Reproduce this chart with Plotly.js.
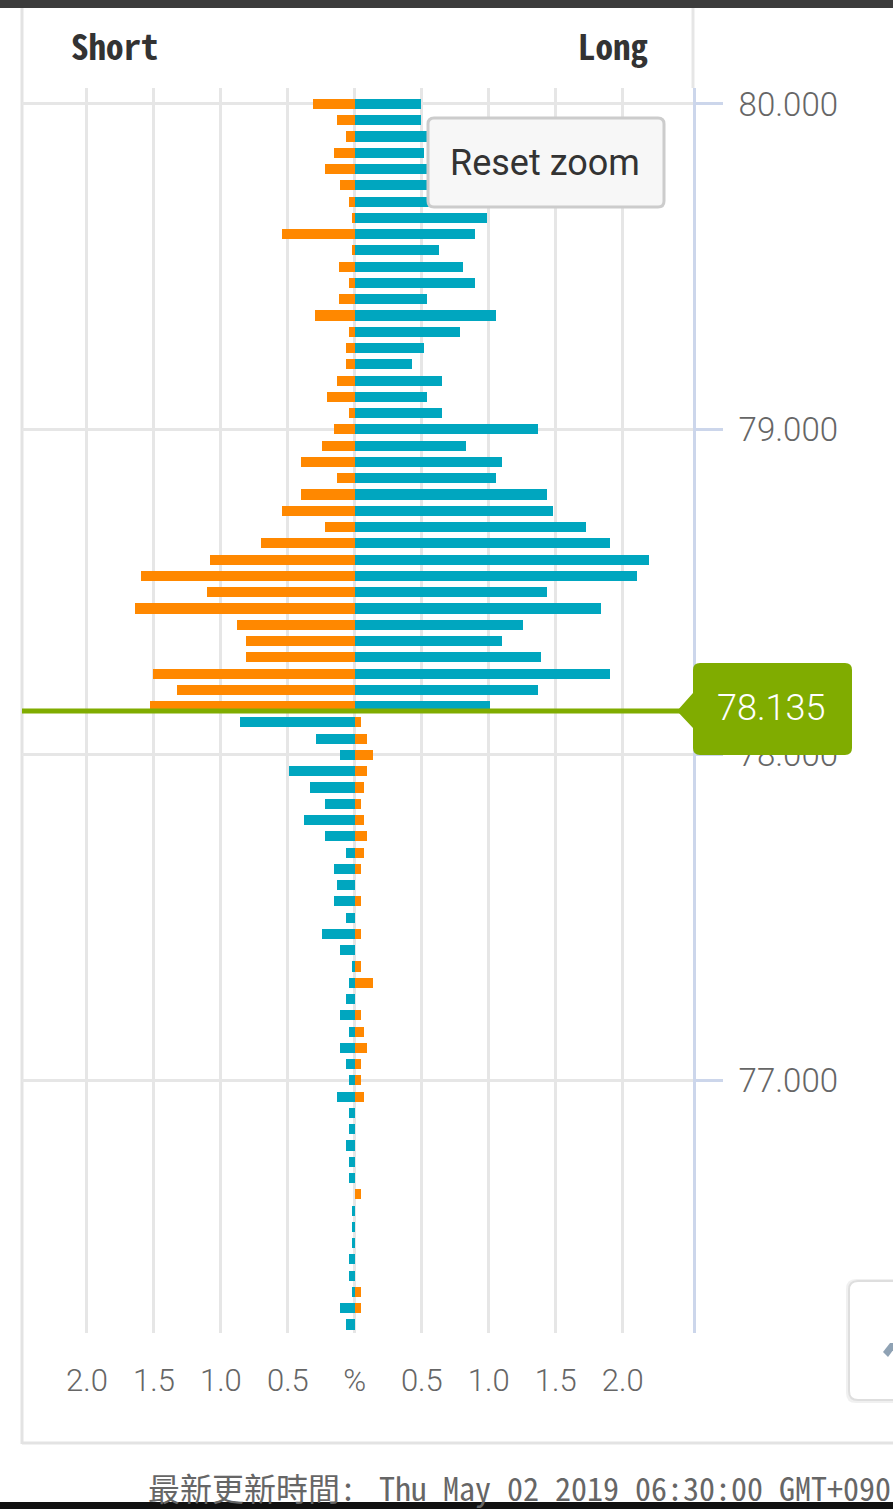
<!DOCTYPE html>
<html>
<head>
<meta charset="utf-8">
<script src="https://cdn.plot.ly/plotly-3.0.1.min.js"></script>
<style>
html,body{margin:0;padding:0;background:#fff;overflow:hidden;}
#chart{width:893px;height:1509px;}
</style>
</head>
<body>
<div id="chart"></div>
<script>
// ---- data (price levels, % of positions) ----
const prices = [80.00,79.95,79.90,79.85,79.80,79.75,79.70,79.65,79.60,79.55,79.50,79.45,79.40,79.35,79.30,79.25,79.20,79.15,79.10,79.05,
  79.00,78.95,78.90,78.85,78.80,78.75,78.70,78.65,78.60,78.55,78.50,78.45,78.40,78.35,78.30,78.25,78.20,78.15,78.10,78.05,
  78.00,77.95,77.90,77.85,77.80,77.75,77.70,77.65,77.60,77.55,77.50,77.45,77.40,77.35,77.30,77.25,77.20,77.15,77.10,77.05,
  77.00,76.95,76.90,76.85,76.80,76.75,76.70,76.65,76.60,76.55,76.50,76.45,76.40,76.35,76.30,76.25];
const shortPct = [0.315,0.135,0.067,0.157,0.225,0.112,0.045,0.022,0.541,0.022,0.115,0.047,0.115,0.294,0.047,0.068,0.068,0.136,0.205,0.047,
  0.158,0.247,0.405,0.136,0.405,0.541,0.226,0.699,1.078,1.594,1.104,1.641,0.878,0.810,0.810,1.505,1.326,1.530,0.855,0.293,
  0.113,0.494,0.337,0.225,0.382,0.225,0.067,0.157,0.135,0.157,0.067,0.247,0.112,0.022,0.045,0.067,0.112,0.045,0.112,0.067,
  0.045,0.135,0.045,0.045,0.067,0.045,0.045,0,0.022,0.022,0.022,0.045,0.045,0.022,0.112,0.067];
const longPct = [0.494,0.494,0.57,0.517,0.61,0.56,0.64,0.985,0.895,0.627,0.806,0.895,0.537,1.053,0.784,0.516,0.426,0.648,0.537,0.648,
  1.368,0.827,1.100,1.053,1.436,1.479,1.726,1.905,2.200,2.110,1.436,1.841,1.257,1.100,1.390,1.905,1.368,1.010,0.045,0.090,
  0.135,0.090,0.067,0.045,0.067,0.090,0.067,0.045,0,0.045,0,0.045,0,0.045,0.135,0,0.045,0.067,0.090,0.045,
  0.045,0.067,0,0,0,0,0,0.045,0,0,0,0,0,0.045,0.045,0];
const currentPrice = 78.135;
const xTickVals = [-2,-1.5,-1,-0.5,0,0.5,1,1.5,2];
const xTickText = ['2.0','1.5','1.0','0.5','%','0.5','1.0','1.5','2.0'];
const yTickVals = [77,78,79,80];
const headerLeft = 'Short';
const headerRight = 'Long';
const resetLabel = 'Reset zoom';
const footerLabel = '最新更新時間:';
const footerDate = 'Thu May 02 2019 06:30:00 GMT+090';

// ---- styling ----
const ORANGE = '#ff8800', TEAL = '#00a6bf', GREEN = '#80ac00';
const MONO = 'Noto Sans Mono CJK TC, Noto Sans Mono CJK JP, Noto Sans CJK TC, monospace';
const W = 893, H = 1509;
const PL = 22, PR = 693, PT = 88, PB = 1333;
const XR = [-2.485, 2.525], YR = [76.224, 80.049];
const px2x = p => (p - PL) / (PR - PL);
const py2y = p => (PB - p) / (PB - PT);
const yPix = v => PT + (YR[1] - v) / (YR[1] - YR[0]) * (PB - PT);

function roundRect(x0, y0, x1, y1, r) {
  const X = px2x, Y = py2y;
  return `M${X(x0+r)},${Y(y0)} L${X(x1-r)},${Y(y0)} Q${X(x1)},${Y(y0)} ${X(x1)},${Y(y0+r)} ` +
    `L${X(x1)},${Y(y1-r)} Q${X(x1)},${Y(y1)} ${X(x1-r)},${Y(y1)} L${X(x0+r)},${Y(y1)} ` +
    `Q${X(x0)},${Y(y1)} ${X(x0)},${Y(y1-r)} L${X(x0)},${Y(y0+r)} Q${X(x0)},${Y(y0)} ${X(x0+r)},${Y(y0)} Z`;
}
function priceTag(py) {
  const X = px2x, Y = py2y;
  const tip = 677, bx0 = 693, bx1 = 852, by0 = py - 48, by1 = py + 44, r = 7;
  return `M${X(tip)},${Y(py)} L${X(bx0)},${Y(py-18)} L${X(bx0)},${Y(by0+r)} Q${X(bx0)},${Y(by0)} ${X(bx0+r)},${Y(by0)} ` +
    `L${X(bx1-r)},${Y(by0)} Q${X(bx1)},${Y(by0)} ${X(bx1)},${Y(by0+r)} L${X(bx1)},${Y(by1-r)} ` +
    `Q${X(bx1)},${Y(by1)} ${X(bx1-r)},${Y(by1)} L${X(bx0+r)},${Y(by1)} Q${X(bx0)},${Y(by1)} ${X(bx0)},${Y(by1-r)} ` +
    `L${X(bx0)},${Y(py+17)} Z`;
}

const shortTrace = {
  type: 'bar', orientation: 'h', y: prices, x: shortPct.map(v => -v),
  width: 0.031, hoverinfo: 'skip',
  marker: { color: prices.map(p => p > currentPrice ? ORANGE : TEAL), line: { width: 0 } }
};
const longTrace = {
  type: 'bar', orientation: 'h', y: prices, x: longPct,
  width: 0.031, hoverinfo: 'skip',
  marker: { color: prices.map(p => p > currentPrice ? TEAL : ORANGE), line: { width: 0 } }
};

const pPix = yPix(currentPrice);
const shapes = [
  { type: 'rect', xref: 'paper', yref: 'paper', x0: px2x(0), x1: px2x(W), y0: py2y(0), y1: py2y(8),
    fillcolor: '#3c3c3c', line: { width: 0 }, layer: 'above' },
  { type: 'line', xref: 'paper', yref: 'paper', x0: px2x(22), x1: px2x(22), y0: py2y(8), y1: py2y(1444),
    line: { color: '#e3e3e3', width: 3 }, layer: 'below' },
  { type: 'line', xref: 'paper', yref: 'paper', x0: px2x(22), x1: px2x(W), y0: py2y(1443), y1: py2y(1443),
    line: { color: '#e3e3e3', width: 3 }, layer: 'below' },
  { type: 'line', xref: 'paper', yref: 'paper', x0: px2x(693), x1: px2x(693), y0: py2y(8), y1: py2y(88),
    line: { color: '#e6e6e6', width: 3 }, layer: 'below' },
  { type: 'line', xref: 'paper', yref: 'y', x0: 0, x1: px2x(680), y0: currentPrice, y1: currentPrice,
    line: { color: GREEN, width: 5 }, layer: 'above' },
  { type: 'path', xref: 'paper', yref: 'paper', path: priceTag(pPix),
    fillcolor: GREEN, line: { width: 0 }, layer: 'above' },
  { type: 'path', xref: 'paper', yref: 'paper', path: roundRect(428, 118, 664, 207, 6),
    fillcolor: '#f7f7f7', line: { color: '#cccccc', width: 3 }, layer: 'above' },
  { type: 'path', xref: 'paper', yref: 'paper', path: roundRect(846, 1279, 910, 1403, 10),
    fillcolor: 'rgba(0,0,0,0.06)', line: { width: 0 }, layer: 'above' },
  { type: 'path', xref: 'paper', yref: 'paper', path: roundRect(849, 1281, 910, 1400, 9),
    fillcolor: '#ffffff', line: { color: '#dedede', width: 2 }, layer: 'above' },
  { type: 'path', xref: 'paper', yref: 'paper',
    path: `M${px2x(883)},${py2y(1352)} L${px2x(890)},${py2y(1343)} L${px2x(894)},${py2y(1343)} L${px2x(894)},${py2y(1349)} L${px2x(888)},${py2y(1357)} Z`,
    fillcolor: '#8fa2b4', line: { width: 0 }, layer: 'above' },
  { type: 'rect', xref: 'paper', yref: 'paper', x0: px2x(0), x1: px2x(W), y0: py2y(1502), y1: py2y(H),
    fillcolor: '#111111', line: { width: 0 }, layer: 'above' }
];

const annotations = [
  { text: headerLeft, xref: 'paper', yref: 'paper', x: px2x(69), y: py2y(44), xanchor: 'left', yanchor: 'middle',
    showarrow: false, font: { family: MONO, size: 35, color: '#333333', weight: 700 } },
  { text: headerRight, xref: 'paper', yref: 'paper', x: px2x(650), y: py2y(44), xanchor: 'right', yanchor: 'middle',
    showarrow: false, font: { family: MONO, size: 35, color: '#333333', weight: 700 } },
  { text: resetLabel, xref: 'paper', yref: 'paper', x: px2x(545), y: py2y(163), xanchor: 'center', yanchor: 'middle',
    showarrow: false, font: { family: 'Roboto', size: 36, color: '#333333' } },
  { text: currentPrice.toFixed(3), xref: 'paper', yref: 'paper', x: px2x(771), y: py2y(pPix - 3), xanchor: 'center', yanchor: 'middle',
    showarrow: false, font: { family: 'Roboto', size: 36, color: '#ffffff', weight: 300 } },
  { text: footerLabel, xref: 'paper', yref: 'paper', x: px2x(146), y: py2y(1487), xanchor: 'left', yanchor: 'middle',
    showarrow: false, font: { family: MONO, size: 32, color: '#666666' } },
  { text: footerDate, xref: 'paper', yref: 'paper', x: px2x(377), y: py2y(1487), xanchor: 'left', yanchor: 'middle',
    showarrow: false, font: { family: MONO, size: 32, color: '#666666' } }
];

const layout = {
  width: W, height: H,
  margin: { l: PL, r: W - PR, t: PT, b: H - PB, pad: 0 },
  paper_bgcolor: '#ffffff', plot_bgcolor: '#ffffff',
  showlegend: false, barmode: 'overlay', bargap: 0,
  xaxis: {
    range: XR, tickmode: 'array', tickvals: xTickVals, ticktext: xTickText,
    showgrid: true, gridcolor: '#e6e6e6', gridwidth: 3, zeroline: false, showline: false,
    ticks: '', ticklabelstandoff: 26,
    tickfont: { family: 'Roboto', size: 31, color: '#666666', weight: 300 }, fixedrange: true
  },
  yaxis: {
    side: 'right', range: YR, tickmode: 'array', tickvals: yTickVals, tickformat: '.3f',
    showgrid: true, gridcolor: '#e6e6e6', gridwidth: 3, zeroline: false,
    showline: true, linecolor: '#ccd6eb', linewidth: 3,
    ticks: 'outside', ticklen: 27, tickwidth: 3, tickcolor: '#ccd6eb', ticklabelstandoff: 9,
    tickfont: { family: 'Roboto', size: 33, color: '#666666', weight: 300 }, fixedrange: true
  },
  shapes: shapes,
  annotations: annotations
};

Plotly.newPlot('chart', [shortTrace, longTrace], layout, { displayModeBar: false, staticPlot: true });
</script>
</body>
</html>
